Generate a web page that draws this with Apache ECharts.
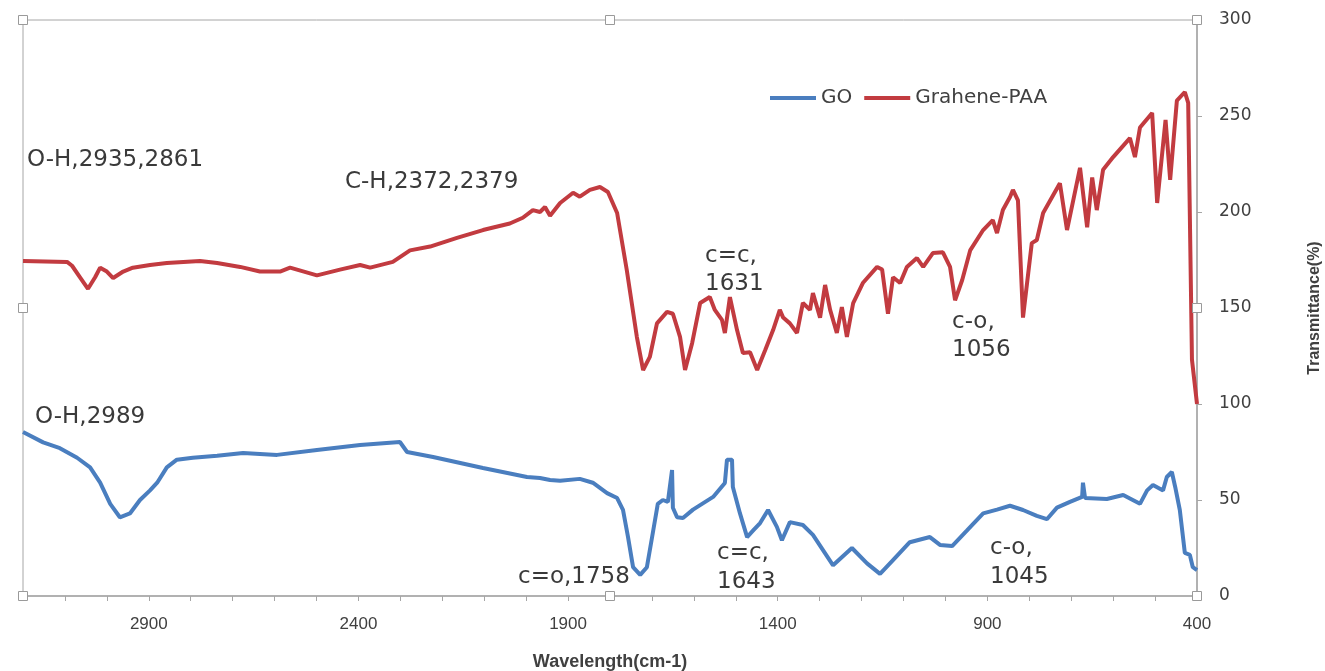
<!DOCTYPE html>
<html><head><meta charset="utf-8">
<script src="https://cdn.jsdelivr.net/npm/echarts@6/dist/echarts.min.js"></script>
<style>html,body{margin:0;padding:0;background:#fff}#c{width:1325px;height:671px}</style>
</head><body><div id="c"></div>
<script>
const seriesNames = ['GO', 'Grahene-PAA'];
const goWavenumber = [3200,3152,3112,3071,3040,3016,2992,2969,2945,2921,2897,2880,2857,2833,2795,2737,2675,2635,2594,2499,2396,2301,2284,2222,2103,1998,1967,1943,1919,1872,1841,1807,1783,1769,1757,1745,1728,1712,1697,1686,1674,1662,1652,1650,1640,1626,1602,1554,1526,1521,1509,1507,1490,1473,1459,1442,1423,1402,1390,1371,1340,1316,1268,1223,1187,1156,1125,1085,1037,1013,984,949,910,877,846,815,782,758,734,703,674,672,667,615,576,536,519,505,481,472,460,452,441,429,417,410,400];
const goValues = [85.4,80,77,72,67,59,48,41,43,50,55,59,67,71,72,73,74.5,74,73.5,76,78.6,80.2,75,72.4,66.7,62,61.5,60.4,60,61,59,53.6,51,44.8,30.7,15,11,15,34,48,50,49,65.6,46,41,40.6,45,51.6,58.9,71,71,56.8,43,30.7,34,38,44.8,36,29,38.5,37,31.8,16,25,17,11.5,18.7,28,30.7,26.6,26,34,43,45,47,44.8,41.7,40,46,49,51.6,59,51,50.5,52.6,48,55,57.8,55,62,64.6,56.8,44.8,22.4,21.4,15,13.5];
const paaWavenumber = [3200,3095,3083,3064,3045,3028,3016,3000,2985,2961,2938,2897,2857,2778,2737,2682,2635,2587,2563,2499,2444,2396,2372,2318,2277,2229,2165,2103,2039,2008,1984,1967,1955,1943,1919,1888,1872,1848,1824,1805,1783,1760,1736,1721,1705,1688,1664,1650,1633,1621,1604,1585,1562,1550,1533,1526,1514,1497,1483,1466,1449,1430,1411,1395,1387,1371,1354,1340,1323,1316,1299,1287,1275,1259,1247,1235,1220,1197,1163,1151,1137,1125,1108,1092,1068,1053,1030,1006,989,977,960,941,910,887,877,863,846,839,827,815,794,782,767,727,710,679,662,650,639,624,600,560,548,536,507,495,475,464,448,429,421,412,400];
const paaValues = [174.5,174,172,166,160,166,171,169,165.6,169,171,172.4,173.4,174.5,173.4,171.4,169,169,171,167,170,172.4,171,174,180,182,186.5,190.6,194,197,201,200,202.6,198,204.7,210,208,211.5,213,210.4,199.5,169.8,135,117.7,124.5,142,148,147,135,117.7,131.8,152.6,155.7,149,143.8,137,155.7,138.5,126.6,127,117.7,128,138.5,149,145,142,137,152.6,149,157.8,145,162,149,137,150.5,135,152.6,163,171.4,170,147,166,163,171.4,176,171.4,178.6,179,171.4,154,164.6,180,190.6,195.8,189,201,207.8,211.5,206,145,183.8,185.4,199.5,215,190.6,223,192,218,201,222,228.6,238.5,228.6,244,251.6,204.7,248,216.7,258,262.5,256.8,123,100];
const xTickLabels = [2900, 2400, 1900, 1400, 900, 400];
const yTickLabels = [0, 50, 100, 150, 200, 250, 300];
const annotations = [
  {text: 'O-H,2935,2861', x: 27, y: 160},
  {text: 'C-H,2372,2379', x: 345, y: 182},
  {text: 'c=c,', x: 705, y: 256},
  {text: '1631', x: 705, y: 284},
  {text: 'c-o,', x: 952, y: 322},
  {text: '1056', x: 952, y: 350},
  {text: 'O-H,2989', x: 35, y: 417},
  {text: 'c=o,1758', x: 518, y: 577},
  {text: 'c=c,', x: 717, y: 553},
  {text: '1643', x: 717, y: 582},
  {text: 'c-o,', x: 990, y: 548},
  {text: '1045', x: 990, y: 577}
];

const zip = (a, b) => a.map((v, i) => [v, b[i]]);
const chart = echarts.init(document.getElementById('c'));
const L = 23, R = 1197, T = 20, B = 596;
const handles = [[L,T],[(L+R)/2,T],[R,T],[L,(T+B)/2],[R,(T+B)/2],[L,B],[(L+R)/2,B],[R,B]].map(p => ({
  type: 'rect', shape: {x: p[0]-4.5, y: p[1]-4.5, width: 9, height: 9},
  style: {fill: '#fff', stroke: '#9a9a9a', lineWidth: 1}, z: 100
}));
const texts = annotations.map(a => ({
  type: 'text', x: a.x, y: a.y,
  style: {text: a.text, fill: '#3a3a3a', font: '23px "DejaVu Sans", sans-serif', verticalAlign: 'middle'}, z: 50
}));
chart.setOption({
  animation: false,
  backgroundColor: '#fff',
  grid: {left: L, right: 1325 - R, top: T, bottom: 671 - B, containLabel: false, outerBoundsMode: 'none',
         show: true, borderColor: '#a6a6a6', borderWidth: 1},
  legend: {
    left: 765, top: 83, itemWidth: 46, itemHeight: 4, itemGap: 12, icon: 'rect',
    textStyle: {fontSize: 20, color: '#404040', fontFamily: '"DejaVu Sans", sans-serif'},
    data: seriesNames
  },
  xAxis: {
    type: 'value', inverse: true, min: 400, max: 3200, interval: 100,
    name: 'Wavelength(cm-1)', nameLocation: 'middle', nameGap: 57,
    nameTextStyle: {fontSize: 18, fontWeight: 'bold', color: '#404040', fontFamily: '"Liberation Sans Narrow", "Liberation Sans", sans-serif'},
    axisLine: {show: true, lineStyle: {color: '#a6a6a6', width: 1.5}},
    axisTick: {show: true, length: 5, inside: false, lineStyle: {color: '#a6a6a6'}},
    splitLine: {show: false},
    axisLabel: {
      margin: 20, fontSize: 17, color: '#404040', fontFamily: '"Liberation Sans Narrow", "Liberation Sans", sans-serif',
      showMinLabel: true, showMaxLabel: true, hideOverlap: false,
      formatter: v => xTickLabels.indexOf(v) >= 0 ? String(v) : ''
    }
  },
  yAxis: {
    type: 'value', position: 'right', min: 0, max: 300, interval: 50,
    name: 'Transmittance(%)', nameLocation: 'middle', nameGap: 110, nameRotate: 90,
    nameTextStyle: {fontSize: 16, fontWeight: 'bold', color: '#404040', fontFamily: '"Liberation Sans Narrow", "Liberation Sans", sans-serif'},
    axisLine: {show: true, lineStyle: {color: '#a6a6a6', width: 1.5}},
    axisTick: {show: true, length: 5, lineStyle: {color: '#a6a6a6'}},
    splitLine: {show: false},
    axisLabel: {margin: 22, fontSize: 17, color: '#404040', fontFamily: '"DejaVu Sans", sans-serif',
      formatter: v => yTickLabels.indexOf(v) >= 0 ? String(v) : ''}
  },
  series: [
    {name: seriesNames[0], type: 'line', data: zip(goWavenumber, goValues), showSymbol: false, symbol: 'none',
     lineStyle: {color: '#4a7ebf', width: 4}, itemStyle: {color: '#4a7ebf'}},
    {name: seriesNames[1], type: 'line', data: zip(paaWavenumber, paaValues), showSymbol: false, symbol: 'none',
     lineStyle: {color: '#c23b40', width: 4}, itemStyle: {color: '#c23b40'}}
  ],
  graphic: handles.concat(texts)
});
</script></body></html>
